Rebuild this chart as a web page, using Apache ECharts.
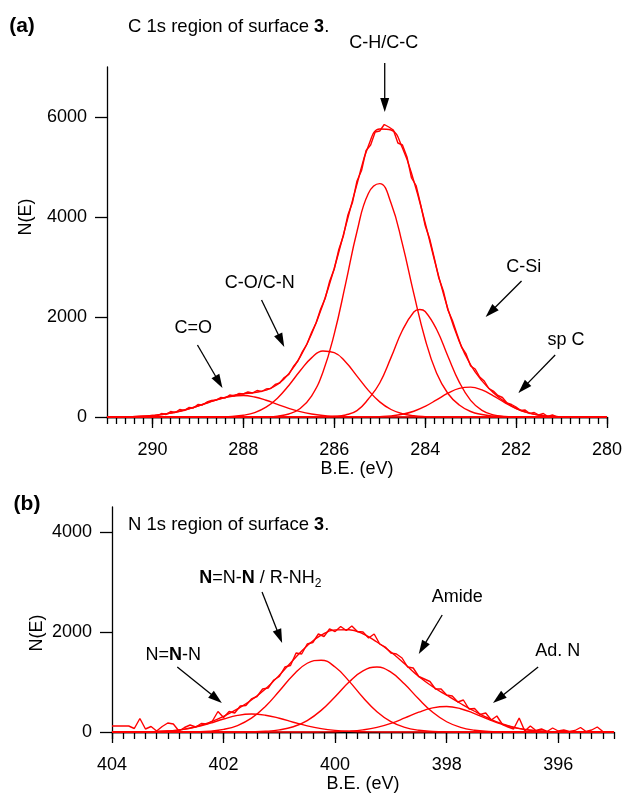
<!DOCTYPE html>
<html><head><meta charset="utf-8">
<script src="https://cdn.jsdelivr.net/npm/echarts@6/dist/echarts.min.js"></script>
<style>html,body{margin:0;padding:0;background:#fff}#c{width:625px;height:794px}</style>
</head><body><div id="c"></div>
<script>
const FONT = '"Liberation Sans", Arial, Helvetica, sans-serif';
const RED = '#ff0000';

// ---------- Panel (a): C 1s ----------
const beA = [291,290.75,290.5,290.25,290,289.75,289.5,289.25,289,288.75,288.5,288.25,288,287.75,287.5,287.25,287,286.75,286.5,286.25,286,285.75,285.5,285.25,285,284.75,284.5,284.25,284,283.75,283.5,283.25,283,282.75,282.5,282.25,282,281.75,281.5,281.25,281,280.75,280.5,280.25,280];
const compA_CdO  = [0,2,6,14,30,55,95,150,220,295,364,416,429,399,335,254,174,107,60,30,14,6,2,0,0,0,0,0,0,0,0,0,0,0,0,0,0,0,0,0,0,0,0,0,0];
const compA_CO   = [0,0,0,0,0,0,0,0,0,1,4,12,36,89,196,377,631,924,1182,1321,1289,1099,818,533,303,150,65,25,8,2,0,0,0,0,0,0,0,0,0,0,0,0,0,0,0];
const compA_CH   = [0,0,0,0,0,0,0,0,0,0,0,0,0,2,5,18,60,170,419,896,1661,2667,3710,4470,4668,4277,3458,2467,1554,880,470,240,110,50,20,8,3,1,0,0,0,0,0,0,0];
const compA_CSi  = [0,0,0,0,0,0,0,0,0,0,0,0,0,0,0,0,0,0,0,3,11,41,127,360,680,1192,1734,2100,2110,1754,1215,698,333,132,43,12,3,0,0,0,0,0,0,0,0];
const peakA_CSi  = [284.12, 2150];
const compA_spC  = [0,0,0,0,0,0,0,0,0,0,0,0,0,0,0,0,0,0,0,0,0,0,0,2,8,22,54,115,213,342,476,573,598,541,424,288,169,86,38,15,5,1,0,0,0];
const fitA       = [0,2,6,14,30,55,95,150,220,296,368,428,465,490,536,649,865,1201,1661,2250,2975,3813,4657,5420,5760,5740,5380,4720,3880,2978,2161,1511,1041,723,487,308,175,87,38,15,5,1,0,0,0];
const rawA = [[289.9,20],[289.8,70],[289.7,50],[289.6,110],[289.5,90],[289.4,150],[289.3,130],[289.2,190],[289.1,180],[289.0,250],[288.9,240],[288.8,300],[288.7,330],[288.6,340],[288.5,390],[288.4,380],[288.3,440],[288.2,420],[288.1,470],[288.0,460],[287.9,500],[287.8,480],[287.7,530],[287.6,510],[287.5,560],[287.4,570],[287.3,650],[287.2,680],[287.1,790],[287.0,850],[286.9,1010],[286.8,1120],[286.7,1310],[286.6,1460],[286.5,1690],[286.4,1880],[286.3,2160],[286.2,2370],[286.1,2720],[286.0,2960],[285.9,3350],[285.8,3620],[285.7,4040],[285.6,4290],[285.5,4720],[285.4,4930],[285.3,5330],[285.2,5440],[285.1,5700],[285.0,5720],[284.9,5850],[284.8,5800],[284.7,5740],[284.6,5480],[284.5,5440],[284.4,5200],[284.3,4780],[284.2,4630],[284.1,4250],[284.0,3830],[283.9,3560],[283.8,3180],[283.7,2780],[283.6,2520],[283.5,2140],[283.4,1930],[283.3,1660],[283.2,1400],[283.1,1260],[283.0,1020],[282.9,960],[282.8,800],[282.7,720],[282.6,570],[282.5,520],[282.4,430],[282.3,390],[282.2,280],[282.1,250],[282.0,200],[281.9,130],[281.8,140],[281.7,70],[281.6,90],[281.5,40],[281.4,70],[281.3,10],[281.2,40],[281.1,0]];
const xTicksA = [280,282,284,286,288,290];
const yTicksA = [0,2000,4000,6000];

// ---------- Panel (b): N 1s ----------
const beB = [404,403.75,403.5,403.25,403,402.75,402.5,402.25,402,401.75,401.5,401.25,401,400.75,400.5,400.25,400,399.75,399.5,399.25,399,398.75,398.5,398.25,398,397.75,397.5,397.25,397,396.75,396.5,396.25,396,395.75,395.5,395.25,395];
const compB_NNN   = [0,0,2,7,19,47,98,173,260,332,360,336,275,196,122,67,32,13,5,2,0,0,0,0,0,0,0,0,0,0,0,0,0,0,0,0,0];
const compB_NNNR  = [0,0,0,0,0,1,6,18,52,129,276,511,820,1141,1375,1436,1299,1018,691,406,207,91,35,12,3,1,0,0,0,0,0,0,0,0,0,0,0];
const compB_Amide = [0,0,0,0,0,0,0,0,0,1,4,14,42,105,229,432,705,998,1223,1300,1196,953,658,394,205,92,36,12,4,1,0,0,0,0,0,0,0];
const compB_AdN   = [0,0,0,0,0,0,0,0,0,0,0,0,0,0,0,2,6,17,43,92,173,281,396,482,510,466,369,254,151,78,35,13,4,1,0,0,0];
const fitB        = [0,0,2,7,19,48,104,191,312,462,640,861,1137,1442,1726,1937,2042,2046,1962,1800,1600,1360,1110,905,735,570,415,275,160,82,35,13,4,1,0,0,0];
const rawB = [[404.0,120],[403.9,120],[403.8,120],[403.7,120],[403.6,70],[403.5,270],[403.4,60],[403.3,110],[403.2,20],[403.1,110],[403.0,180],[402.9,160],[402.8,20],[402.7,90],[402.6,140],[402.5,100],[402.4,170],[402.3,160],[402.2,220],[402.1,410],[402.0,290],[401.9,410],[401.8,380],[401.7,520],[401.6,530],[401.5,660],[401.4,710],[401.3,860],[401.2,880],[401.1,1040],[401.0,1110],[400.9,1300],[400.8,1330],[400.7,1580],[400.6,1560],[400.5,1760],[400.4,1790],[400.3,1960],[400.2,1910],[400.1,2060],[400.0,2010],[399.9,2110],[399.8,2030],[399.7,2120],[399.6,2010],[399.5,2000],[399.4,1880],[399.3,1960],[399.2,1760],[399.1,1700],[399.0,1580],[398.9,1560],[398.8,1480],[398.7,1300],[398.6,1280],[398.5,1110],[398.4,1060],[398.3,1010],[398.2,860],[398.1,860],[398.0,740],[397.9,720],[397.8,600],[397.7,640],[397.6,460],[397.5,470],[397.4,350],[397.3,380],[397.2,240],[397.1,320],[397.0,150],[396.9,100],[396.8,60],[396.7,280],[396.6,20],[396.5,120],[396.4,30],[396.3,60],[396.2,10],[396.1,80],[396.0,20],[395.9,40],[395.8,10],[395.7,30],[395.6,90],[395.5,10],[395.4,40],[395.3,100],[395.2,10]];
const xTicksB = [396,398,400,402,404];
const yTicksB = [0,2000,4000];

// annotations (data coordinates)
const annotations = [
  {g:0, text:'C-H/C-C', at:[284.91,7480], from:[284.89,7080], to:[284.89,6100]},
  {g:0, text:'C-O/C-N', at:[287.64,2680], from:[287.60,2340], to:[287.10,1400]},
  {g:0, text:'C=O',     at:[289.10,1780], from:[289.01,1440], to:[288.46,580]},
  {g:0, text:'C-Si',    at:[281.83,3000], from:[281.88,2720], to:[282.67,2000]},
  {g:0, text:'sp C',    at:[280.90,1540], from:[281.14,1240], to:[281.95,480]},
  {g:1, text:'{b|N}=N-{b|N} / R-NH{s|2}', at:[401.34,3080], from:[401.31,2800], to:[400.95,1780]},
  {g:1, text:'N={b|N}-N', at:[402.90,1540], from:[402.83,1300], to:[402.03,580]},
  {g:1, text:'Amide',   at:[397.81,2700], from:[398.08,2340], to:[398.50,1560]},
  {g:1, text:'Ad. N',   at:[396.01,1620], from:[396.36,1300], to:[397.17,580]}
];

// minor tick positions every 0.2 eV along each axis range
function minorTicks(lo, hi){ const t=[]; const n=Math.round((hi-lo)/0.2); for(let i=0;i<=n;i++) t.push(Math.round((lo+i*0.2)*10)/10); return t; }

const chart = echarts.init(document.getElementById('c'), null, {renderer:'canvas'});
const blk = {color:'#000', width:1.3};
const lbl = {fontSize:18, color:'#000', fontFamily:FONT};

function pairs(xs, ys){ return xs.map((x,i)=>[x, ys[i]]); }
function withPeak(data, peak){ return data.concat([peak]).sort((a,b)=>b[0]-a[0]); }
function ser(data, xi, yi, smooth){
  return {type:'line', data, xAxisIndex:xi, yAxisIndex:yi, symbol:'none', smooth: smooth ? 0.45 : false,
    lineStyle:{color:RED, width:1.4}, itemStyle:{color:RED}, silent:true, animation:false, clip:false};
}
function xAxisPair(grid, min, max, ticks){
  return [
    {gridIndex:grid, type:'value', min, max, inverse:true, position:'bottom',
     axisLine:{show:true, onZero:false, lineStyle:blk},
     axisTick:{show:true, inside:false, length:7, customValues:minorTicks(min,max), lineStyle:blk},
     axisLabel:Object.assign({customValues:ticks, margin:24, formatter:v=>String(v)}, lbl),
     splitLine:{show:false},
     name:'B.E. (eV)', nameLocation:'middle', nameGap:43, nameTextStyle:lbl},
    {gridIndex:grid, type:'value', min, max, inverse:true, position:'bottom', offset:0,
     axisLine:{show:true, onZero:false, lineStyle:blk}, axisTick:{show:true, inside:false, length:11, customValues:ticks, lineStyle:blk},
     axisLabel:{show:false}, splitLine:{show:false}}
  ];
}
function yAxis(grid, max, ticks){
  return {gridIndex:grid, type:'value', min:0, max, position:'left',
    axisLine:{show:true, onZero:false, lineStyle:blk},
    axisTick:{show:true, length:12, customValues:ticks, lineStyle:blk},
    axisLabel:Object.assign({customValues:ticks, margin:20, formatter:v=>String(v)}, lbl),
    splitLine:{show:false}};
}

const option = {
  animation:false,
  backgroundColor:'#fff',
  textStyle:{fontFamily:FONT},
  grid:[
    {left:107, top:67, width:502, height:350, containLabel:false},
    {left:112, top:507, width:502, height:225, containLabel:false}
  ],
  xAxis:[].concat(xAxisPair(0,280,291,xTicksA), xAxisPair(1,395,404,xTicksB)),
  yAxis:[yAxis(0,7000,yTicksA), yAxis(1,4500,yTicksB)],
  series:[
    ser(pairs(beA, compA_CdO),0,0,true),
    ser(pairs(beA, compA_CO),0,0,true),
    ser(pairs(beA, compA_CH),0,0,true),
    ser(withPeak(pairs(beA, compA_CSi), peakA_CSi),0,0,true),
    ser(pairs(beA, compA_spC),0,0,true),
    ser(pairs(beA, fitA),0,0,true),
    ser(rawA,0,0,false),
    ser(pairs(beB, compB_NNN),2,1,true),
    ser(pairs(beB, compB_NNNR),2,1,true),
    ser(pairs(beB, compB_Amide),2,1,true),
    ser(pairs(beB, compB_AdN),2,1,true),
    ser(pairs(beB, fitB),2,1,true),
    ser(rawB,2,1,false)
  ]
};
chart.setOption(option);

function txt(x, y, text, extra){
  return {type:'text', x, y, silent:true, z:100,
    style:Object.assign({text, fill:'#000', fontSize:18, fontFamily:FONT,
      align:'center', verticalAlign:'middle', textAlign:'center', textVerticalAlign:'middle',
      rich:{b:{fontWeight:'bold', fontSize:18, fontFamily:FONT}, s:{fontSize:12, fontFamily:FONT, lineHeight:12, verticalAlign:'bottom'}}}, extra||{})};
}
const gfx = [];
gfx.push(txt(22, 26, '(a)', {fontWeight:'bold', fontSize:21}));
gfx.push(txt(128, 27, 'C 1s region of surface {b|3}.', {align:'left', textAlign:'left', fontSize:18.5}));
gfx.push(txt(27, 504, '(b)', {fontWeight:'bold', fontSize:21}));
gfx.push(txt(128, 525, 'N 1s region of surface {b|3}.', {align:'left', textAlign:'left', fontSize:18.5}));
gfx.push(Object.assign(txt(26, 217, 'N(E)'), {rotation:Math.PI/2}));
gfx.push(Object.assign(txt(37, 633, 'N(E)'), {rotation:Math.PI/2}));

annotations.forEach(a => {
  const finder = a.g === 0 ? {xAxisIndex:0, yAxisIndex:0} : {xAxisIndex:2, yAxisIndex:1};
  const t = chart.convertToPixel(finder, a.at);
  const p0 = chart.convertToPixel(finder, a.from);
  const p1 = chart.convertToPixel(finder, a.to);
  gfx.push(txt(t[0], t[1], a.text, {lineHeight:24}));
  const dx = p1[0]-p0[0], dy = p1[1]-p0[1], L = Math.hypot(dx,dy);
  const ux = dx/L, uy = dy/L, hl = 14, hw = 4.5;
  const bx = p1[0]-ux*hl, by = p1[1]-uy*hl;
  gfx.push({type:'line', silent:true, z:100, shape:{x1:p0[0], y1:p0[1], x2:bx+ux, y2:by+uy}, style:{stroke:'#000', lineWidth:1.3}});
  gfx.push({type:'polygon', silent:true, z:100, shape:{points:[[p1[0],p1[1]],[bx-uy*hw, by+ux*hw],[bx+uy*hw, by-ux*hw]]}, style:{fill:'#000'}});
});
chart.setOption({graphic:{elements:gfx}});
</script>
</body></html>
